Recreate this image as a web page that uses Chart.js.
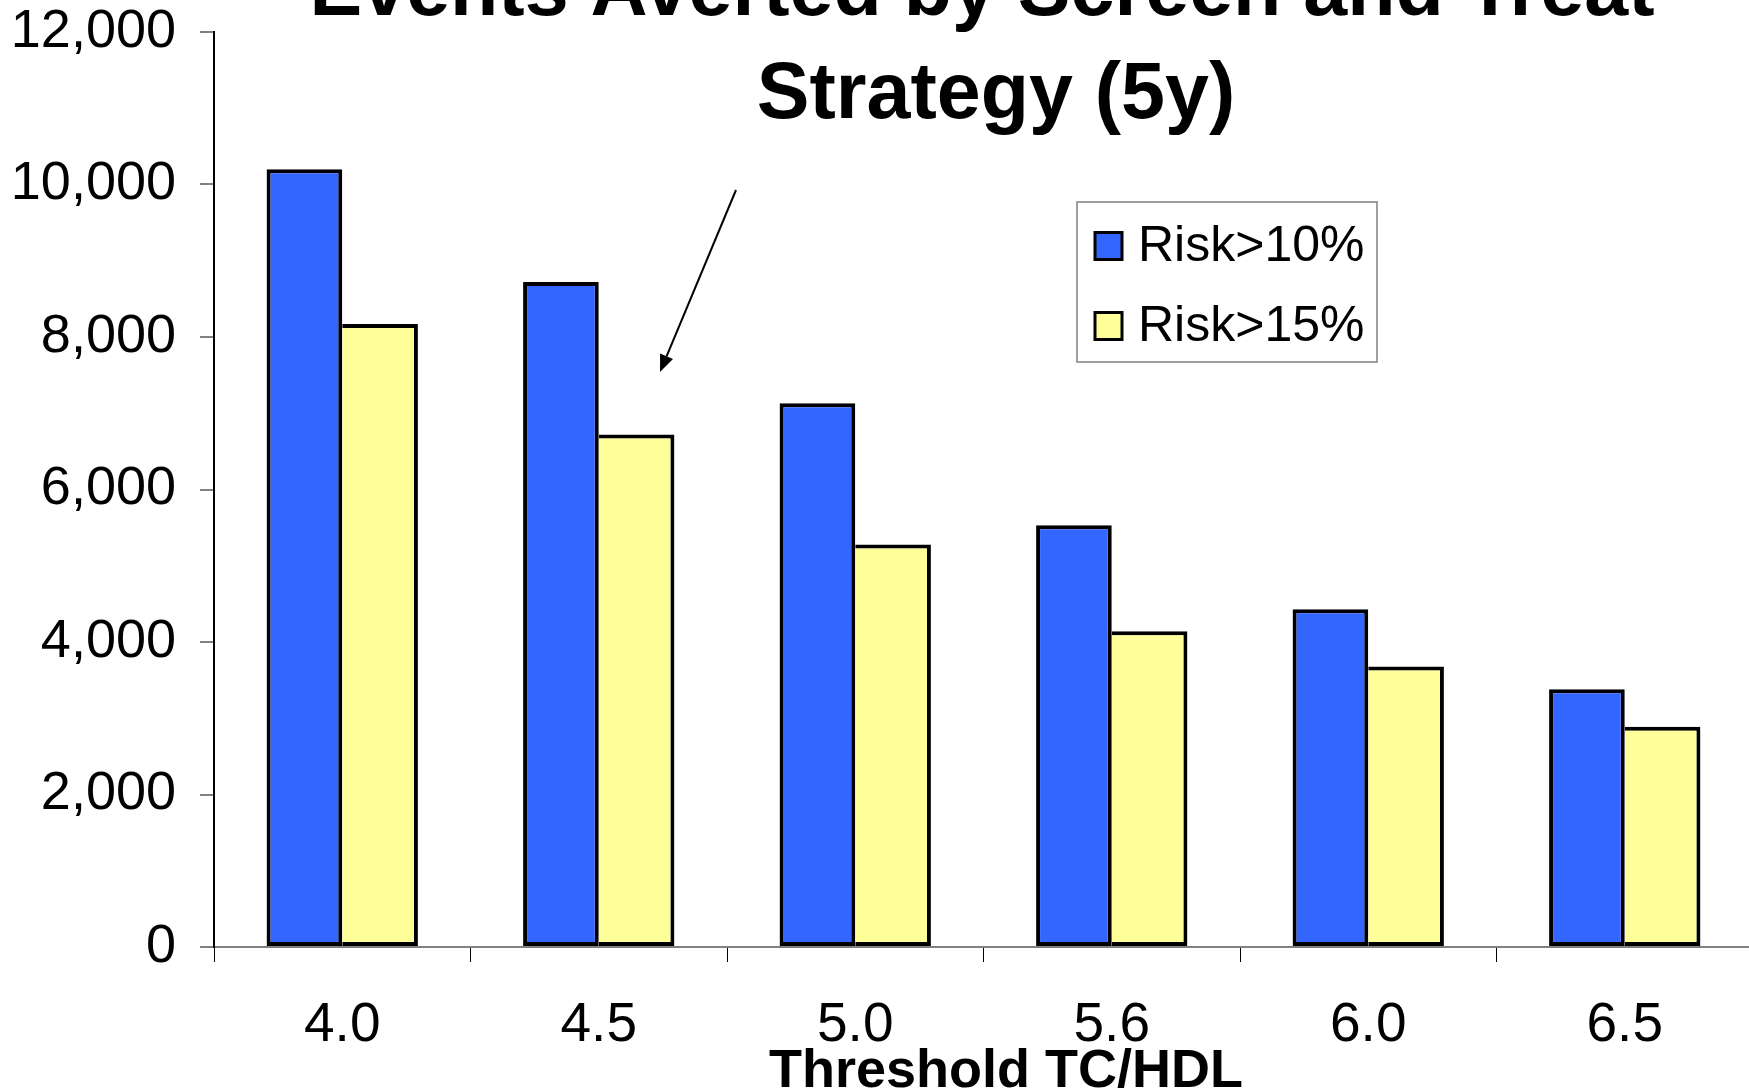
<!DOCTYPE html>
<html>
<head>
<meta charset="utf-8">
<title>Events Averted by Screen and Treat Strategy (5y)</title>
<script src="https://cdn.jsdelivr.net/npm/chart.js@4/dist/chart.umd.min.js"></script>
<style>
  html, body { margin: 0; padding: 0; overflow: hidden; background: #ffffff; }
  canvas { display: block; }
</style>
</head>
<body>
<canvas id="chart" width="1753" height="1091"></canvas>
<script>
// Threshold TC/HDL ratios used to decide who gets treated
const categories = ['4.0', '4.5', '5.0', '5.6', '6.0', '6.5'];
// Events averted over 5 years for each risk cut-off
const risk10 = [10200, 8720, 7130, 5530, 4430, 3380];
const risk15 = [8170, 6720, 5280, 4140, 3680, 2890];
const seriesNames = ['Risk>10%', 'Risk>15%'];
const yTicks = [0, 2000, 4000, 6000, 8000, 10000, 12000];
const titleLines = ['Events Averted by Screen and Treat', 'Strategy (5y)'];
const xAxisTitle = 'Threshold TC/HDL';

const FONT = "'Liberation Sans', Arial, Helvetica, sans-serif";
Chart.defaults.font.family = FONT;
Chart.defaults.color = '#000000';

const withCommas = v => String(v).replace(/\B(?=(\d{3})+(?!\d))/g, ',');

// Two-line bold heading, drawn over the top of the plot
const headingPlugin = {
  id: 'heading',
  afterDraw(chart) {
    const ctx = chart.ctx;
    ctx.save();
    ctx.fillStyle = '#000';
    ctx.font = "bold 79px " + FONT;
    ctx.textAlign = 'center';
    ctx.textBaseline = 'alphabetic';
    ctx.fillText(titleLines[0], 982, 15);
    ctx.fillText(titleLines[1], 996, 118);
    // category axis caption
    ctx.font = "bold 54px " + FONT;
    ctx.fillText(xAxisTitle, 1006, 1087);
    ctx.restore();
  }
};

// Boxed legend in the upper right of the plot
const boxLegendPlugin = {
  id: 'boxLegend',
  afterDraw(chart) {
    const ctx = chart.ctx;
    const x0 = 1077, y0 = 202, w = 300, h = 160;
    ctx.save();
    ctx.fillStyle = '#ffffff';
    ctx.fillRect(x0, y0, w, h);
    ctx.strokeStyle = '#808080';
    ctx.lineWidth = 1.5;
    ctx.strokeRect(x0, y0, w, h);
    const rows = [246, 326];
    chart.data.datasets.forEach((ds, i) => {
      const cy = rows[i];
      ctx.fillStyle = ds.backgroundColor;
      ctx.fillRect(1095, cy - 13.5, 27, 27);
      ctx.strokeStyle = '#000';
      ctx.lineWidth = 3;
      ctx.strokeRect(1095, cy - 13.5, 27, 27);
      ctx.fillStyle = '#000';
      ctx.font = "50px " + FONT;
      ctx.textAlign = 'left';
      ctx.textBaseline = 'middle';
      ctx.fillText(ds.label, 1138, cy + 1);
    });
    ctx.restore();
  }
};

// Pointer arrow towards the 4.5 Risk>15% bar
const arrowPlugin = {
  id: 'pointerArrow',
  afterDraw(chart) {
    const ctx = chart.ctx;
    const x1 = 736, y1 = 190, x2 = 660, y2 = 372;
    const ang = Math.atan2(y2 - y1, x2 - x1);
    const headLen = 17, headHalf = 7;
    const bx = x2 - headLen * Math.cos(ang), by = y2 - headLen * Math.sin(ang);
    ctx.save();
    ctx.strokeStyle = '#000';
    ctx.fillStyle = '#000';
    ctx.lineWidth = 2;
    ctx.beginPath();
    ctx.moveTo(x1, y1);
    ctx.lineTo(bx, by);
    ctx.stroke();
    ctx.beginPath();
    ctx.moveTo(x2, y2);
    ctx.lineTo(bx + headHalf * Math.sin(ang), by - headHalf * Math.cos(ang));
    ctx.lineTo(bx - headHalf * Math.sin(ang), by + headHalf * Math.cos(ang));
    ctx.closePath();
    ctx.fill();
    ctx.restore();
  }
};

new Chart(document.getElementById('chart'), {
  type: 'bar',
  data: {
    labels: categories,
    datasets: [
      {
        label: seriesNames[0],
        data: risk10,
        backgroundColor: '#3366FF',
        borderColor: '#000000',
        borderWidth: 4,
        borderSkipped: false
      },
      {
        label: seriesNames[1],
        data: risk15,
        backgroundColor: '#FFFF99',
        borderColor: '#000000',
        borderWidth: { top: 4, right: 4, bottom: 4, left: 0 },
        borderSkipped: false
      }
    ]
  },
  options: {
    responsive: false,
    animation: false,
    devicePixelRatio: 1,
    layout: { padding: { top: 32, right: 0, bottom: 0, left: 0 } },
    datasets: {
      bar: { categoryPercentage: 0.59, barPercentage: 1.0 }
    },
    plugins: {
      legend: { display: false },
      title: { display: false },
      tooltip: { enabled: false }
    },
    scales: {
      x: {
        grid: {
          offset: true,
          drawOnChartArea: false,
          drawTicks: true,
          tickLength: 15,
          color: '#000000',
          lineWidth: 1
        },
        border: { display: true, color: '#808080', width: 2 },
        ticks: {
          color: '#000',
          font: { size: 55 },
          padding: 31,
          maxRotation: 0,
          autoSkip: false
        },
        afterFit: s => { s.height = 144; s.paddingLeft = 0; s.paddingRight = 0; }
      },
      y: {
        min: 0,
        max: 12000,
        afterBuildTicks: s => { s.ticks = yTicks.map(v => ({ value: v })); },
        grid: {
          drawOnChartArea: false,
          drawTicks: true,
          tickLength: 14,
          color: '#808080',
          lineWidth: 2
        },
        border: { display: true, color: '#000000', width: 2 },
        ticks: {
          color: '#000',
          font: { size: 54 },
          padding: 24,
          callback: v => withCommas(v)
        },
        afterFit: s => { s.width = 214; s.paddingTop = 0; s.paddingBottom = 0; }
      }
    }
  },
  plugins: [headingPlugin, boxLegendPlugin, arrowPlugin]
});
</script>
</body>
</html>
